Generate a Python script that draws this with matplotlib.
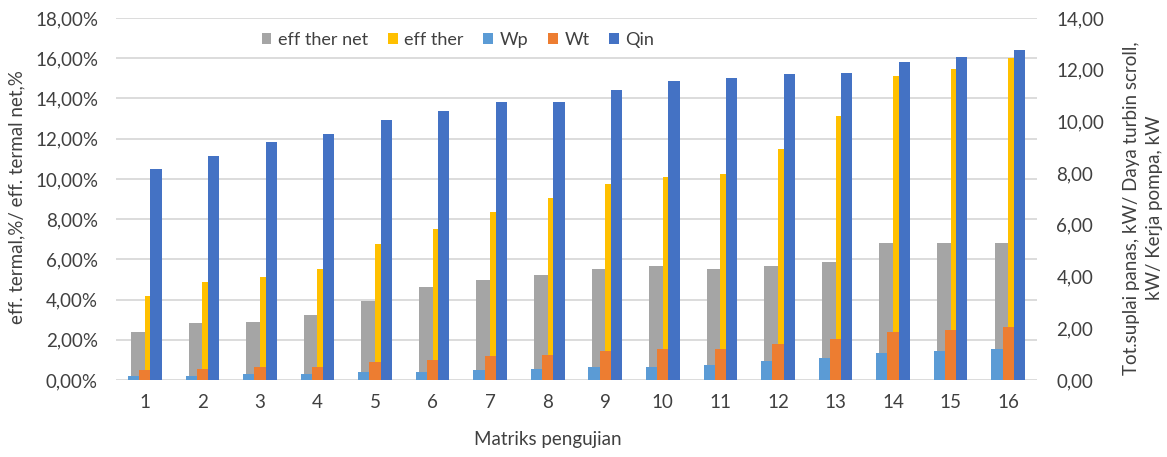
import numpy as np
import matplotlib
matplotlib.use("Agg")
import matplotlib.pyplot as plt
from matplotlib.ticker import FuncFormatter, MultipleLocator

plt.rcParams['font.family'] = ['Lato', 'DejaVu Sans']

# Test matrix number
matriks = list(range(1, 17))

# Thermal efficiencies, % (left axis)
eff_ther_net = [2.37, 2.82, 2.90, 3.25, 3.95, 4.61, 4.98, 5.24, 5.51, 5.67, 5.51, 5.67, 5.85, 6.80, 6.80, 6.80]
eff_ther = [4.19, 4.89, 5.14, 5.51, 6.78, 7.50, 8.36, 9.05, 9.75, 10.08, 10.26, 11.49, 13.13, 15.11, 15.47, 15.99]

# Powers, kW (right axis)
wp = [0.17, 0.17, 0.23, 0.22, 0.31, 0.30, 0.37, 0.44, 0.51, 0.51, 0.58, 0.72, 0.85, 1.06, 1.12, 1.19]
wt = [0.37, 0.44, 0.50, 0.50, 0.71, 0.77, 0.92, 0.98, 1.12, 1.19, 1.19, 1.39, 1.59, 1.86, 1.92, 2.06]
qin = [8.17, 8.66, 9.20, 9.50, 10.05, 10.40, 10.74, 10.74, 11.21, 11.55, 11.68, 11.82, 11.88, 12.29, 12.49, 12.76]

C_GRAY = '#A5A5A5'
C_YEL = '#FFC000'
C_LBLUE = '#5B9BD5'
C_ORANGE = '#ED7D31'
C_BLUE = '#4472C4'
TXT = '#404040'
GRID = '#D9D9D9'

FS = 13.5

W, H = 1167, 457
fig = plt.figure(figsize=(W / 100, H / 100), dpi=100)
ax = fig.add_axes([116 / W, 1 - 380 / H, (1037 - 116) / W, (380 - 18) / H])
ax2 = ax.twinx()

x = np.array(matriks, dtype=float)
wpri = 0.238
wsec = 0.195

b1 = ax.bar(x - wpri / 2, eff_ther_net, wpri, color=C_GRAY, label='eff ther net', zorder=2)
b2 = ax.bar(x + wpri / 2, eff_ther, wpri, color=C_YEL, label='eff ther', zorder=2)
b3 = ax2.bar(x - wsec, wp, wsec, color=C_LBLUE, label='Wp', zorder=2)
b4 = ax2.bar(x, wt, wsec, color=C_ORANGE, label='Wt', zorder=2)
b5 = ax2.bar(x + wsec, qin, wsec, color=C_BLUE, label='Qin', zorder=2)

ax.set_xlim(0.5, 16.5)
ax.set_ylim(0, 18)
ax2.set_ylim(0, 14)
ax.yaxis.set_major_locator(MultipleLocator(2))
ax2.yaxis.set_major_locator(MultipleLocator(2))
ax.set_xticks(x)
ax.set_xticklabels([str(m) for m in matriks])

ax.yaxis.set_major_formatter(FuncFormatter(lambda v, p: f"{v:.2f}%".replace('.', ',')))
ax2.yaxis.set_major_formatter(FuncFormatter(lambda v, p: f"{v:.2f}".replace('.', ',')))

ax.grid(axis='y', color=GRID, linewidth=1.3, zorder=0)
ax.set_axisbelow(True)
for a in (ax, ax2):
    for s in a.spines.values():
        s.set_visible(False)
    a.tick_params(length=0, labelsize=FS, labelcolor=TXT)
ax.tick_params(axis='y', pad=13)
ax2.tick_params(axis='y', pad=14)
ax.tick_params(axis='x', pad=10)
for lab in ax2.get_yticklabels():
    lab.set_horizontalalignment('left')

fig.text(17 / W, 1 - 197 / H, 'eff. termal,%/ eff. termal net,%', rotation=90,
         ha='center', va='center', fontsize=FS, color=TXT)
fig.text(1143 / W, 1 - 208 / H, 'Tot.suplai panas, kW/ Daya turbin scroll,\nkW/ Kerja pompa, kW',
         rotation=90, ha='center', va='center', fontsize=FS, color=TXT,
         multialignment='center', linespacing=1.4)
fig.text(548 / W, 1 - 440 / H, 'Matriks pengujian', ha='center', va='center',
         fontsize=FS, color=TXT)

fig.legend(handles=[b1, b2, b3, b4, b5], loc='center', bbox_to_anchor=(458 / W, 1 - 40 / H),
           ncol=5, frameon=False, fontsize=13, handlelength=0.55, handleheight=0.55,
           handletextpad=0.35, columnspacing=1.1, labelcolor=TXT)

fig.savefig('out.png', dpi=100)
